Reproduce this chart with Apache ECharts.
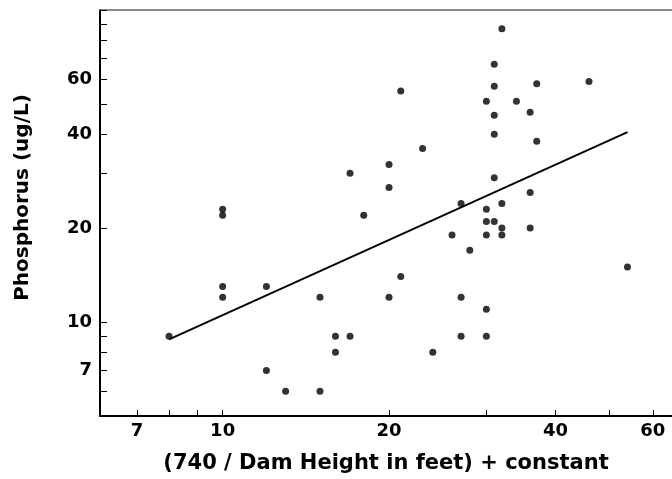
<!DOCTYPE html>
<html>
<head>
<meta charset="utf-8">
<script src="https://cdn.jsdelivr.net/npm/echarts@6/dist/echarts.min.js"></script>
<style>
  html, body { margin: 0; padding: 0; background: #fff; }
  #chart { width: 672px; height: 479px; }
</style>
</head>
<body>
<div id="chart"></div>
<script>
// dam factor (x) and phosphorus (y)
const damX = [10, 10, 17, 20, 20, 32, 31, 21, 31, 37, 46, 30, 34, 36, 31, 31, 37, 23, 31, 36,
  27, 32, 30, 18, 10, 12, 10, 15, 20, 8, 16, 17, 16, 12, 13, 15, 30, 31, 32, 36,
  26, 30, 32, 28, 21, 27, 30, 27, 30, 24, 54];
const phosY = [23, 22, 30, 32, 27, 87, 67, 55, 57, 58, 59, 51, 51, 47, 46, 40, 38, 36, 29, 26,
  24, 24, 23, 22, 13, 13, 12, 12, 12, 9, 9, 9, 8, 7, 6, 6, 21, 21, 20, 20,
  19, 19, 19, 17, 14, 12, 11, 9, 9, 8, 15];

// fitted line end points
const fitX = [8, 54];
const fitY = [8.8, 40.6];

const xTicks = [7, 8, 9, 10, 20, 30, 40, 50, 60];
const xLabels = [7, 10, 20, 40, 60];
const yTicks = [6, 7, 8, 9, 10, 20, 30, 40, 50, 60, 70, 80, 90, 100];
const yLabels = [7, 10, 20, 40, 60];

const lg = v => Math.log10(v);
const font = 'DejaVu Sans, sans-serif';

const chart = echarts.init(document.getElementById('chart'));

const option = {
  animation: false,
  grid: { left: 100, right: 0, top: 10, bottom: 63 },
  xAxis: [
    {
      type: 'value',
      position: 'bottom',
      min: lg(6),
      max: lg(65),
      name: '(740 / Dam Height in feet) + constant',
      nameLocation: 'middle',
      nameGap: 37,
      nameTextStyle: { fontFamily: font, fontWeight: 'bold', fontSize: 21, color: '#000' },
      axisLine: { lineStyle: { color: '#000', width: 2 } },
      axisTick: { inside: true, length: 6, lineStyle: { color: '#000', width: 1 }, customValues: xTicks.map(lg) },
      axisLabel: {
        customValues: xLabels.map(lg),
        formatter: v => String(Math.round(Math.pow(10, v))),
        fontFamily: font, fontWeight: 'bold', fontSize: 18, color: '#000', margin: 6
      },
      splitLine: { show: false }
    },
    {
      type: 'value',
      position: 'top',
      min: lg(6),
      max: lg(65),
      axisLine: { lineStyle: { color: '#666', width: 1.5 } },
      axisTick: { show: false },
      axisLabel: { show: false },
      splitLine: { show: false }
    }
  ],
  yAxis: {
    type: 'value',
    min: lg(5),
    max: lg(100),
    name: 'Phosphorus (ug/L)',
    nameLocation: 'middle',
    nameGap: 67,
    nameTextStyle: { fontFamily: font, fontWeight: 'bold', fontSize: 20, color: '#000', padding: [0, 0, 0, 31] },
    axisLine: { lineStyle: { color: '#000', width: 2 } },
    axisTick: { inside: true, length: 7, lineStyle: { color: '#000', width: 1 }, customValues: yTicks.map(lg) },
    axisLabel: {
      customValues: yLabels.map(lg),
      formatter: v => String(Math.round(Math.pow(10, v))),
      fontFamily: font, fontWeight: 'bold', fontSize: 18, color: '#000', margin: 8
    },
    splitLine: { show: false }
  },
  series: [
    {
      type: 'scatter',
      symbolSize: 7,
      itemStyle: { color: '#000' },
      data: damX.map((x, i) => [lg(x), lg(phosY[i])])
    },
    {
      type: 'line',
      symbol: 'none',
      lineStyle: { color: '#000', width: 2 },
      data: fitX.map((x, i) => [lg(x), lg(fitY[i])])
    }
  ]
};

chart.setOption(option);
</script>
</body>
</html>
